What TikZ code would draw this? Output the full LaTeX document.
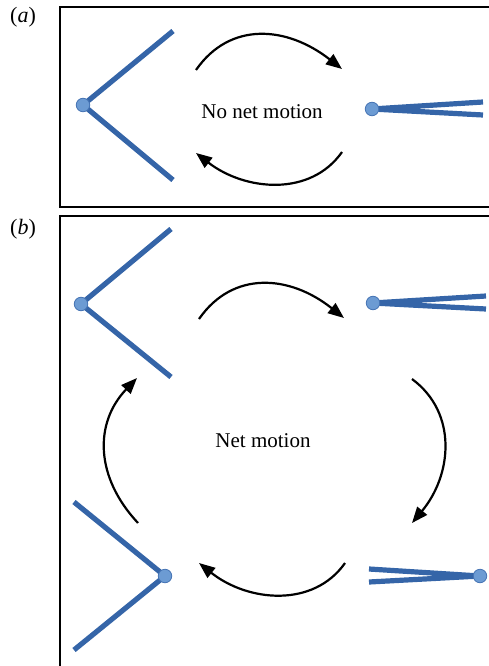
\documentclass[tikz,border=0pt]{standalone}
\usepackage{fontspec}
\setmainfont{Liberation Serif}
\usetikzlibrary{arrows.meta}
\definecolor{armblue}{HTML}{3565A8}
\definecolor{jointfill}{HTML}{6C9BD3}
\definecolor{jointedge}{HTML}{4674B4}
\tikzset{
  panel/.style={draw=black, line width=2.6pt},
  arm/.style={draw=armblue, line width=5.2pt, line cap=butt},
  joint/.style={circle, fill=jointfill, draw=jointedge, line width=0.8pt, minimum size=13.5pt, inner sep=0pt},
  cyc/.style={draw=black, line width=2.2pt, -{Triangle[length=16pt,width=12.5pt]}},
  lbl/.style={font=\fontsize{22}{24}\selectfont},
  caption/.style={font=\fontsize{21}{24}\selectfont}
}
\begin{document}
\begin{tikzpicture}[x=1pt,y=-1pt]
\useasboundingbox (0,0) rectangle (489,666);
\clip (0,0) rectangle (489,666);
% panels
\draw[panel] (60,7) rectangle (500,207);
\draw[panel] (60,216) rectangle (500,680);
\node[lbl] (la) at (23,17) {(\textit{a})};
\node[lbl] (lb) at (23,229) {(\textit{b})};
% ---------- panel a ----------
\coordinate (a1v) at (83,105);
\coordinate (a1u) at (173,31);
\coordinate (a1d) at (173,180);
\draw[arm] (a1u) -- (a1v) -- (a1d);
\node[joint] (a1j) at (a1v) {};
\coordinate (a2v) at (372,109);
\coordinate (a2u) at (483,102);
\coordinate (a2d) at (483,115);
\draw[arm] (a2u) -- (a2v) -- (a2d);
\node[joint] (a2j) at (a2v) {};
\coordinate (at1) at (196,70);
\coordinate (at2) at (342,69);
\draw[cyc] (at1) .. controls (230,21) and (287,26) .. (at2);
\coordinate (ab1) at (342,152);
\coordinate (ab2) at (196,153);
\draw[cyc] (ab1) .. controls (310.5,197) and (245,191) .. (ab2);
\node[caption] (ta) at (262,112) {No net motion};
% ---------- panel b ----------
\coordinate (b1v) at (81,304);
\coordinate (b1u) at (171,229);
\coordinate (b1d) at (171,377);
\draw[arm] (b1u) -- (b1v) -- (b1d);
\node[joint] (b1j) at (b1v) {};
\coordinate (b2v) at (373,303);
\coordinate (b2u) at (486,296);
\coordinate (b2d) at (486,309);
\draw[arm] (b2u) -- (b2v) -- (b2d);
\node[joint] (b2j) at (b2v) {};
\coordinate (b3v) at (480,576);
\coordinate (b3u) at (369,569);
\coordinate (b3d) at (369,582);
\draw[arm] (b3u) -- (b3v) -- (b3d);
\node[joint] (b3j) at (b3v) {};
\coordinate (b4v) at (165,576);
\coordinate (b4u) at (74,502);
\coordinate (b4d) at (74,650);
\draw[arm] (b4u) -- (b4v) -- (b4d);
\node[joint] (b4j) at (b4v) {};
% arrows b
\coordinate (bt1) at (199,319);
\coordinate (bt2) at (344,318);
\draw[cyc] (bt1) .. controls (233,270) and (290,275) .. (bt2);
\coordinate (br1) at (412,379);
\coordinate (br2) at (412,523);
\draw[cyc] (br1) .. controls (458,413) and (452,475) .. (br2);
\coordinate (bb1) at (345,563);
\coordinate (bb2) at (199,563);
\draw[cyc] (bb1) .. controls (313.5,608) and (248,602) .. (bb2);
\coordinate (bl1) at (138,523);
\coordinate (bl2) at (137,378);
\draw[cyc] (bl1) .. controls (95,477) and (94,423) .. (bl2);
\node[caption] (tb) at (263,441) {Net motion};
\end{tikzpicture}
\end{document}
